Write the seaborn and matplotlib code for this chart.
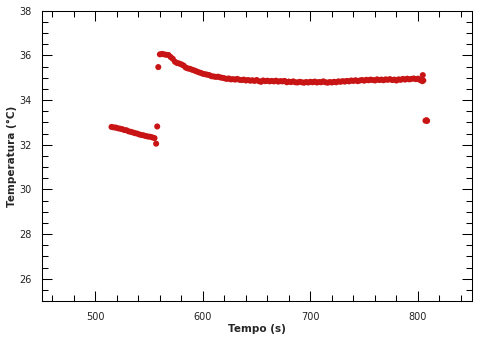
import numpy as np
import pandas as pd
import matplotlib
matplotlib.use("Agg")
import matplotlib.pyplot as plt
from matplotlib.ticker import MultipleLocator
import seaborn as sns

# ---- data ----
time_s = [
    515, 517, 519, 521, 523, 525, 527, 529, 531, 533, 535, 537, 539, 541, 543,
    545, 547, 549, 551, 553, 555, 556.5, 557.5, 558.5,
    560, 562, 564, 566, 568, 570, 572, 574, 576, 578, 580, 582, 584, 586, 588,
    590, 592, 594, 596, 598, 600, 602, 604, 606, 608, 610, 612, 614, 616, 618,
    620, 622, 624, 626, 628, 630, 632, 634, 636, 638, 640, 642, 644, 646, 648,
    650, 652, 654, 656, 658, 660, 662, 664, 666, 668, 670, 672, 674, 676, 678,
    680, 682, 684, 686, 688, 690, 692, 694, 696, 698, 700, 702, 704, 706, 708,
    710, 712, 714, 716, 718, 720, 722, 724, 726, 728, 730, 732, 734, 736, 738,
    740, 742, 744, 746, 748, 750, 752, 754, 756, 758, 760, 762, 764, 766, 768,
    770, 772, 774, 776, 778, 780, 782, 784, 786, 788, 790, 792, 794, 796, 798,
    800, 802, 804, 805, 804.5, 807, 808, 808.5,
]
temperature_c = [
    32.80, 32.78, 32.77, 32.74, 32.72, 32.70, 32.66, 32.65, 32.60, 32.58, 32.55,
    32.52, 32.50, 32.46, 32.44, 32.42, 32.39, 32.37, 32.36, 32.33, 32.30, 32.05,
    32.82, 35.48,
    36.05, 36.07, 36.05, 36.03, 36.02, 35.93, 35.85, 35.72, 35.66, 35.64, 35.60,
    35.55, 35.46, 35.42, 35.40, 35.36, 35.33, 35.29, 35.25, 35.22, 35.18, 35.16,
    35.14, 35.12, 35.07, 35.06, 35.04, 35.05, 35.02, 35.00, 34.98, 34.95, 34.97,
    34.93, 34.94, 34.92, 34.95, 34.91, 34.90, 34.92, 34.88, 34.90, 34.87, 34.89,
    34.86, 34.90, 34.85, 34.82, 34.88, 34.85, 34.87, 34.84, 34.86, 34.84, 34.87,
    34.83, 34.85, 34.84, 34.86, 34.80, 34.83, 34.81, 34.84, 34.80, 34.79, 34.82,
    34.80, 34.78, 34.81, 34.79, 34.82, 34.80, 34.83, 34.79, 34.81, 34.80, 34.84,
    34.80, 34.78, 34.81, 34.79, 34.82, 34.80, 34.84, 34.82, 34.85, 34.83, 34.86,
    34.84, 34.88, 34.86, 34.89, 34.85, 34.88, 34.90, 34.87, 34.91, 34.89, 34.92,
    34.90, 34.88, 34.93, 34.90, 34.92, 34.89, 34.93, 34.91, 34.94, 34.90, 34.92,
    34.88, 34.93, 34.91, 34.95, 34.92, 34.96, 34.93, 34.95, 34.97, 34.94, 34.96,
    34.90, 34.85, 34.88, 35.12, 33.08, 33.10, 33.07,
]
x_ticks = [500, 600, 700, 800]
y_ticks = [26, 28, 30, 32, 34, 36, 38]

df = pd.DataFrame({"Tempo (s)": time_s, "Temperatura (°C)": temperature_c})

sns.set_theme(style="ticks")
plt.rcParams["font.family"] = ["DejaVu Sans"]

fig = plt.figure(figsize=(4.84, 3.41), dpi=100)
ax = fig.add_axes([0.086, 0.117, 0.8886, 0.8513])

sns.scatterplot(data=df, x="Tempo (s)", y="Temperatura (°C)", ax=ax,
                color="#C81414", s=19, linewidth=0, edgecolor="none", legend=False)

ax.set_xlim(450, 850)
ax.set_ylim(25, 38)
ax.set_xticks(x_ticks)
ax.set_yticks(y_ticks)
ax.xaxis.set_minor_locator(MultipleLocator(20))
ax.yaxis.set_minor_locator(MultipleLocator(0.5))

for sp in ax.spines.values():
    sp.set_visible(True)
    sp.set_color("black")
    sp.set_linewidth(0.75)

ax.tick_params(which="both", direction="in", top=True, right=True,
               colors="black", labelcolor="#222222", labelsize=7)
ax.tick_params(which="major", length=7, width=0.75)
ax.tick_params(which="minor", length=4, width=0.75)
ax.tick_params(axis="x", which="major", pad=8)
ax.tick_params(axis="y", which="major", pad=7)

ax.set_xlabel("Tempo (s)", fontsize=7.5, fontweight="bold", labelpad=1)
ax.set_ylabel("Temperatura (°C)", fontsize=7.5, fontweight="bold", labelpad=2)

fig.savefig("out.png", dpi=100)
